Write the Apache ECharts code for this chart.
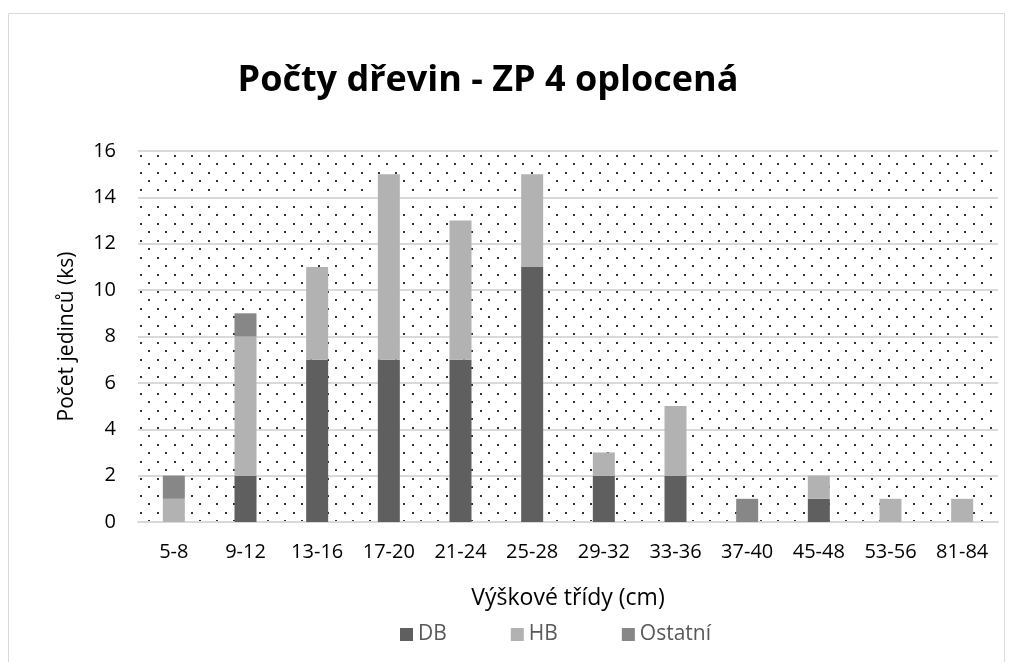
<!DOCTYPE html>
<html>
<head>
<meta charset="utf-8">
<script src="https://cdn.jsdelivr.net/npm/echarts@6/dist/echarts.min.js"></script>
<style>
  html, body { margin: 0; padding: 0; background: #fff; }
  #chart { width: 1012px; height: 662px; }
</style>
</head>
<body>
<div id="chart"></div>
<script>
var categories = ['5-8', '9-12', '13-16', '17-20', '21-24', '25-28', '29-32', '33-36', '37-40', '45-48', '53-56', '81-84'];
var dbValues = [0, 2, 7, 7, 7, 11, 2, 2, 0, 1, 0, 0];
var hbValues = [1, 6, 4, 8, 6, 4, 1, 3, 0, 1, 1, 1];
var ostatniValues = [1, 1, 0, 0, 0, 0, 0, 0, 1, 0, 0, 0];
var yTicks = [0, 2, 4, 6, 8, 10, 12, 14, 16];

// dotted fill of the plot area
var tile = document.createElement('canvas');
tile.width = 17;
tile.height = 17;
var ctx = tile.getContext('2d');
ctx.fillStyle = '#fff';
ctx.fillRect(0, 0, 17, 17);
ctx.fillStyle = '#333';
ctx.fillRect(4, 2, 2, 2);
ctx.fillRect(12, 10, 2, 2);

var font = '"Open Sans", "Noto Sans", sans-serif';

var chart = echarts.init(document.getElementById('chart'));

chart.setOption({
  animation: false,
  backgroundColor: '#fff',
  title: {
    text: 'Počty dřevin - ZP 4 oplocená',
    left: 483,
    textAlign: 'center',
    top: 58,
    textStyle: { fontFamily: font, fontSize: 36, fontWeight: 'bold', color: '#000' }
  },
  graphic: [{
    type: 'rect',
    shape: { x: 8.5, y: 13.5, width: 996, height: 660 },
    style: { fill: 'none', stroke: '#d9d9d9', lineWidth: 1 },
    silent: true
  }],
  legend: {
    bottom: 12,
    left: 395,
    itemGap: 64,
    itemWidth: 13,
    itemHeight: 13,
    icon: 'rect',
    textStyle: { fontFamily: font, fontSize: 21, color: '#595959' },
    data: ['DB', 'HB', 'Ostatní']
  },
  grid: {
    left: 138,
    right: 14,
    top: 151,
    bottom: 140,
    show: true,
    borderWidth: 0,
    backgroundColor: { image: tile, repeat: 'repeat' }
  },
  xAxis: {
    type: 'category',
    data: categories,
    name: 'Výškové třídy (cm)',
    nameLocation: 'middle',
    nameGap: 65,
    nameTextStyle: { fontFamily: font, fontSize: 23, color: '#000' },
    axisLine: { lineStyle: { color: '#d9d9d9', width: 2 } },
    axisTick: { show: false },
    axisLabel: { fontFamily: font, fontSize: 20, color: '#000', margin: 20 }
  },
  yAxis: {
    type: 'value',
    min: yTicks[0],
    max: yTicks[yTicks.length - 1],
    interval: 2,
    name: 'Počet jedinců (ks)',
    nameLocation: 'middle',
    nameGap: 60,
    nameTextStyle: { fontFamily: font, fontSize: 21, color: '#000' },
    axisLine: { show: false },
    axisTick: { show: false },
    axisLabel: { fontFamily: font, fontSize: 20, color: '#000', margin: 22 },
    splitLine: { lineStyle: { color: '#d9d9d9', width: 2 } }
  },
  series: [
    {
      name: 'DB', type: 'bar', stack: 'total', barWidth: 22,
      itemStyle: { color: '#5f5f5f' },
      data: dbValues
    },
    {
      name: 'HB', type: 'bar', stack: 'total', barWidth: 22,
      itemStyle: { color: '#b2b2b2' },
      data: hbValues
    },
    {
      name: 'Ostatní', type: 'bar', stack: 'total', barWidth: 22,
      itemStyle: { color: '#878787' },
      data: ostatniValues
    }
  ]
});
</script>
</body>
</html>
